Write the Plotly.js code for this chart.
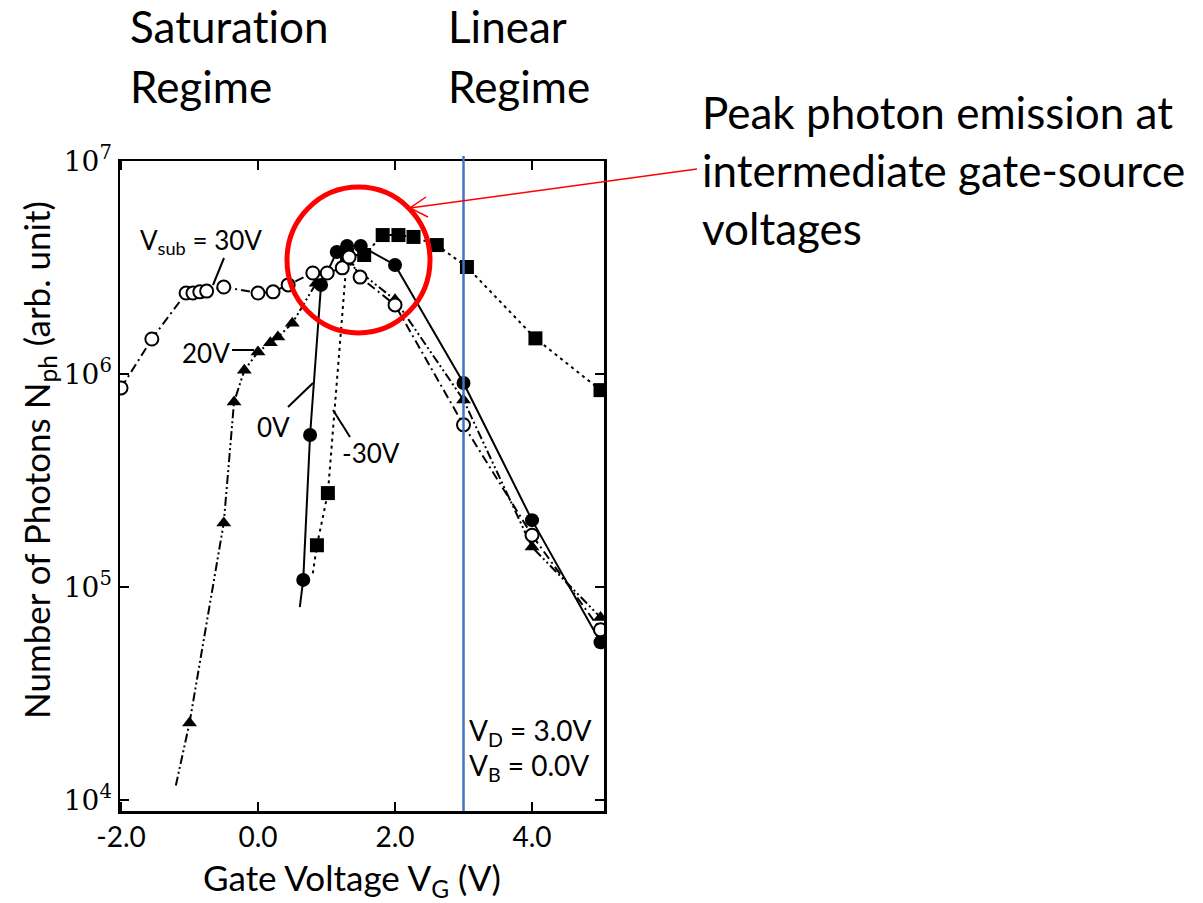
<!DOCTYPE html>
<html><head><meta charset="utf-8">
<script src="https://cdn.plot.ly/plotly-3.0.1.min.js"></script>
<style>html,body{margin:0;padding:0;background:#fff}#chart{width:1203px;height:903px}svg text{font-variant-ligatures:none;font-feature-settings:"liga" 0}</style>
</head><body><div id="chart"></div>
<script>
// ---- data (gate voltage V, photons arb. unit) ----
const vgSub30 = [-2.0, -1.55, -1.05, -0.95, -0.85, -0.75, -0.5, 0.0, 0.22, 0.44, 0.8, 1.01, 1.23, 1.33, 1.49, 2.0, 3.0, 4.0, 5.0];
const nphSub30 = [8.6e5, 1.46e6, 2.40e6, 2.40e6, 2.43e6, 2.45e6, 2.56e6, 2.40e6, 2.43e6, 2.62e6, 2.98e6, 2.98e6, 3.15e6, 3.54e6, 2.85e6, 2.11e6, 5.77e5, 1.75e5, 6.3e4];

const vgSub20 = [-1.0, -0.5, -0.35, -0.2, 0.0, 0.18, 0.29, 0.5, 0.85, 1.3, 2.0, 3.0, 4.0, 5.0];
const nphSub20 = [2.30e4, 2.0e5, 7.39e5, 1.04e6, 1.27e6, 1.40e6, 1.49e6, 1.73e6, 2.67e6, 3.36e6, 2.23e6, 7.55e5, 1.54e5, 7.2e4];
const vgSub20Tail = [-1.2, -1.0];
const nphSub20Tail = [1.17e4, 2.30e4];

const vgSub0 = [0.66, 0.76, 0.92, 1.15, 1.3, 1.5, 2.0, 3.0, 4.0, 5.0];
const nphSub0 = [1.08e5, 5.17e5, 2.62e6, 3.74e6, 3.99e6, 3.99e6, 3.25e6, 9.07e5, 2.06e5, 5.5e4];
const vgSub0Tail = [0.61, 0.66];
const nphSub0Tail = [8.05e4, 1.08e5];

const vgSubM30 = [0.86, 1.02, 1.3, 1.55, 1.82, 2.05, 2.27, 2.61, 3.05, 4.05, 5.0];
const nphSubM30 = [1.57e5, 2.76e5, 3.62e6, 3.62e6, 4.49e6, 4.49e6, 4.40e6, 4.03e6, 3.18e6, 1.47e6, 8.4e5];
const vgSubM30Tail = [0.80, 0.86];
const nphSubM30Tail = [1.16e5, 1.57e5];

const xTickVals = [-2, 0, 2, 4];
const xTickText = ['-2.0', '0.0', '2.0', '4.0'];
const yTickVals = [1e4, 1e5, 1e6, 1e7];
const yTickText = ['10<sup>4</sup>', '10<sup>5</sup>', '10<sup>6</sup>', '10<sup>7</sup>'];
const linearBoundary = 3.0;

// ---- helpers: pixel -> paper (plot area 120..604 x 161..811) ----
const PL = 120, PR = 604, PT = 161, PB = 811;
const px = v => (v - PL) / (PR - PL);
const py = v => (PB - v) / (PB - PT);

const dashDot = '9px,4px,2px,4px';
const dashDotDot = '9px,3px,2px,3px,2px,3px';
const dotted = '3px,4px';

const traces = [
  {x: vgSubM30Tail, y: nphSubM30Tail, mode: 'lines', line: {color: 'black', width: 2, dash: dotted}},
  {x: vgSubM30, y: nphSubM30, mode: 'lines+markers', line: {color: 'black', width: 2, dash: dotted},
   marker: {symbol: 'square', size: 14, color: 'black'}},
  {x: vgSub0Tail, y: nphSub0Tail, mode: 'lines', line: {color: 'black', width: 2}},
  {x: vgSub0, y: nphSub0, mode: 'lines+markers', line: {color: 'black', width: 2},
   marker: {symbol: 'circle', size: 14, color: 'black'}},
  {x: vgSub20Tail, y: nphSub20Tail, mode: 'lines', line: {color: 'black', width: 2, dash: dashDotDot}},
  {x: vgSub20, y: nphSub20, mode: 'lines+markers', line: {color: 'black', width: 2, dash: dashDotDot},
   marker: {symbol: 'triangle-up', size: 13, color: 'black'}},
  {x: vgSub30, y: nphSub30, mode: 'lines+markers', line: {color: 'black', width: 2, dash: dashDot},
   marker: {symbol: 'circle', size: 13, color: 'white', line: {color: 'black', width: 2}}}
];

const big = {family: 'Lato, sans-serif', size: 44, color: 'black'};
const fig = {family: 'Lato, sans-serif', size: 26, color: 'black'};
const fig2 = {family: 'Lato, sans-serif', size: 28, color: 'black'};

function txt(text, x, y, font, xanchor, extra) {
  return Object.assign({text: text, xref: 'paper', yref: 'paper', x: px(x), y: py(y),
    xanchor: xanchor || 'center', yanchor: 'middle', showarrow: false, font: font}, extra || {});
}

const annotations = [
  txt('Saturation', 128, 26, big, 'left'),
  txt('Regime', 128, 86, big, 'left'),
  txt('Linear', 446, 26, big, 'left'),
  txt('Regime', 446, 86, big, 'left'),
  txt('Peak photon emission at', 700, 112, big, 'left'),
  txt('intermediate gate-source', 700, 170, big, 'left'),
  txt('voltages', 700, 228, big, 'left'),
  txt('V<sub>sub</sub> = 30V', 201, 241, fig),
  txt('20V', 206, 353, fig),
  txt('0V', 273, 427, fig),
  txt('-30V', 371, 453, fig),
  txt('V<sub>D</sub> = 3.0V', 530, 732, fig2),
  txt('V<sub>B</sub> = 0.0V', 529, 767, fig2),
  txt('Gate Voltage V<sub>G</sub> (V)', 352, 879, {family: 'Lato, sans-serif', size: 35, color: 'black'}),
  txt('Number of Photons N<sub>ph</sub> (arb. unit)', 38, 460, {family: 'Lato, sans-serif', size: 35, color: 'black'}, 'center', {textangle: -90})
];

function seg(x0, y0, x1, y1, color, width) {
  return {type: 'line', xref: 'paper', yref: 'paper', x0: px(x0), y0: py(y0), x1: px(x1), y1: py(y1),
    line: {color: color, width: width}};
}

const shapes = [
  {type: 'line', xref: 'x', yref: 'paper', x0: linearBoundary, x1: linearBoundary, y0: 0, y1: py(156),
   line: {color: 'rgb(68,114,196)', width: 2.5}},
  {type: 'circle', xref: 'paper', yref: 'paper', x0: px(287), x1: px(430), y0: py(333), y1: py(187),
   line: {color: 'rgb(255,0,0)', width: 5}},
  seg(697, 169, 410, 208, 'rgb(255,0,0)', 1.5),
  {type: 'path', xref: 'paper', yref: 'paper',
   path: 'M ' + px(426) + ' ' + py(197) + ' L ' + px(410) + ' ' + py(208) + ' L ' + px(428) + ' ' + py(217),
   line: {color: 'rgb(255,0,0)', width: 1.5}},
  seg(224, 258, 213, 285, 'black', 2),
  seg(232, 350, 254, 350, 'black', 2),
  seg(288, 407, 313, 383, 'black', 2),
  seg(333, 410, 350, 437, 'black', 2)
];

const layout = {
  width: 1203, height: 903, autosize: false,
  margin: {l: PL, r: 1203 - PR, t: PT, b: 903 - PB, pad: 0},
  paper_bgcolor: 'white', plot_bgcolor: 'white',
  showlegend: false,
  xaxis: {range: [-2.015, 5.051], tickvals: xTickVals, ticktext: xTickText,
    ticks: 'inside', ticklen: 9, tickwidth: 2, tickcolor: 'black',
    showline: true, linewidth: 2.5, linecolor: 'black', mirror: 'ticks',
    showgrid: false, zeroline: false,
    tickfont: {family: 'Lato, sans-serif', size: 28, color: 'black'}},
  yaxis: {type: 'log', range: [7 - 650 / 213, 7], tickvals: yTickVals, ticktext: yTickText,
    ticks: 'inside', ticklen: 9, tickwidth: 2, tickcolor: 'black',
    showline: true, linewidth: 2.5, linecolor: 'black', mirror: 'ticks',
    showgrid: false, zeroline: false,
    tickfont: {family: '"DejaVu Serif", serif', size: 28, color: 'black'}},
  annotations: annotations,
  shapes: shapes
};

Plotly.newPlot('chart', traces, layout, {staticPlot: true, displayModeBar: false});
</script></body></html>
